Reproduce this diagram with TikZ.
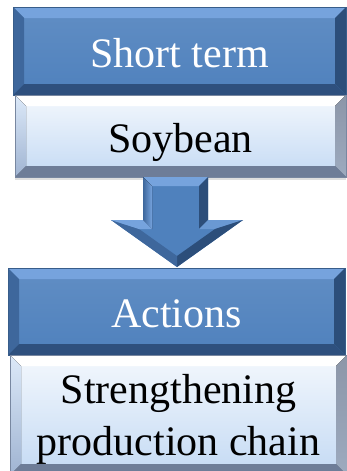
\documentclass[tikz,border=0pt]{standalone}
\usepackage{fontspec}
\setmainfont{Liberation Serif}
\usetikzlibrary{calc,shadows}
\definecolor{blueface}{RGB}{79,129,189}\definecolor{bluetop}{RGB}{118,163,221}
\definecolor{blueleft}{RGB}{62,103,156}\definecolor{blueright}{RGB}{44,78,122}
\definecolor{bluebot}{RGB}{46,80,126}\definecolor{blueedge}{RGB}{56,93,138}
\definecolor{paleface}{RGB}{196,218,244}\definecolor{paleleft}{RGB}{160,180,210}
\definecolor{paleright}{RGB}{140,150,168}\definecolor{palebot}{RGB}{110,125,152}
\definecolor{paleedge}{RGB}{120,135,160}
\def\bvw{11pt}
\tikzset{
  bevel/.style n args={4}{path picture={
    \coordinate (nw) at (path picture bounding box.north west);\coordinate (ne) at (path picture bounding box.north east);
    \coordinate (sw) at (path picture bounding box.south west);\coordinate (se) at (path picture bounding box.south east);
    \fill[#1] (nw)--(ne)--($(ne)+(-\bvw,-\bvw)$)--($(nw)+(\bvw,-\bvw)$)--cycle;
    \fill[#2] (nw)--($(nw)+(\bvw,-\bvw)$)--($(sw)+(\bvw,\bvw)$)--(sw)--cycle;
    \fill[#3] (ne)--(se)--($(se)+(-\bvw,\bvw)$)--($(ne)+(-\bvw,-\bvw)$)--cycle;
    \fill[#4] (sw)--(se)--($(se)+(-\bvw,\bvw)$)--($(sw)+(\bvw,\bvw)$)--cycle;}},
  box/.style={inner sep=0pt,font=\fontsize{42}{50}\selectfont,text depth=0pt},
  oneline/.style={text height=32pt},
  headbox/.style={box,oneline,text=white,draw=blueedge,top color=blueface!90!white,bottom color=blueface,
    bevel={fill=bluetop}{fill=blueleft}{fill=blueright}{fill=bluebot}},
  bodybox/.style={box,draw=paleedge,top color=paleface!20!white,bottom color=paleface,
    drop shadow={shadow xshift=0pt,shadow yshift=-3pt,opacity=.25},
    bevel={fill=white}{top color=paleface!60!white,bottom color=paleleft}{top color=paleright,bottom color=paleright!70!paleface}{fill=palebot}},
  facet/.style={draw=none}
}
\begin{document}
\begin{tikzpicture}[x=1pt,y=-1pt]
\useasboundingbox (0,0) rectangle (347,471);
\node[headbox,minimum width=333pt,minimum height=88pt] (short) at (179.5,51) {Short term};
\node[bodybox,oneline,minimum width=331pt,minimum height=82pt] (soy) at (180.5,136) {Soybean};
% down arrow, outer outline and inner face
\coordinate (A) at (143,177);\coordinate (B) at (208,177);\coordinate (C) at (208,220);\coordinate (D) at (243,220);
\coordinate (E) at (177,267);\coordinate (F) at (111,220);\coordinate (G) at (143,220);
\coordinate (a) at (152,186);\coordinate (b) at (199,186);\coordinate (c) at (199,229);\coordinate (d) at (215,229);
\coordinate (e) at (177,256);\coordinate (f) at (139,229);\coordinate (g) at (152,229);
\fill[blueface] (A)--(B)--(C)--(D)--(E)--(F)--(G)--cycle;
\fill[facet,bluetop] (A)--(B)--(b)--(a)--cycle;
\fill[facet,left color=blueleft,right color=bluetop] (A)--(a)--(g)--(G)--cycle;
\fill[facet,blueright] (B)--(C)--(c)--(b)--cycle;
\fill[facet,bluetop!70!blueface] (C)--(D)--(d)--(c)--cycle;
\fill[facet,blueright] (D)--(E)--(e)--(d)--cycle;
\fill[facet,blueleft] (E)--(F)--(f)--(e)--cycle;
\fill[facet,bluetop] (F)--(G)--(g)--(f)--cycle;
\node[headbox,minimum width=337pt,minimum height=87pt] (act) at (176.5,311.5) {Actions};
\node[bodybox,align=center,minimum width=337pt,minimum height=120pt] (chain) at (178.5,415) {Strengthening\\[2pt]production chain};
\end{tikzpicture}
\end{document}
